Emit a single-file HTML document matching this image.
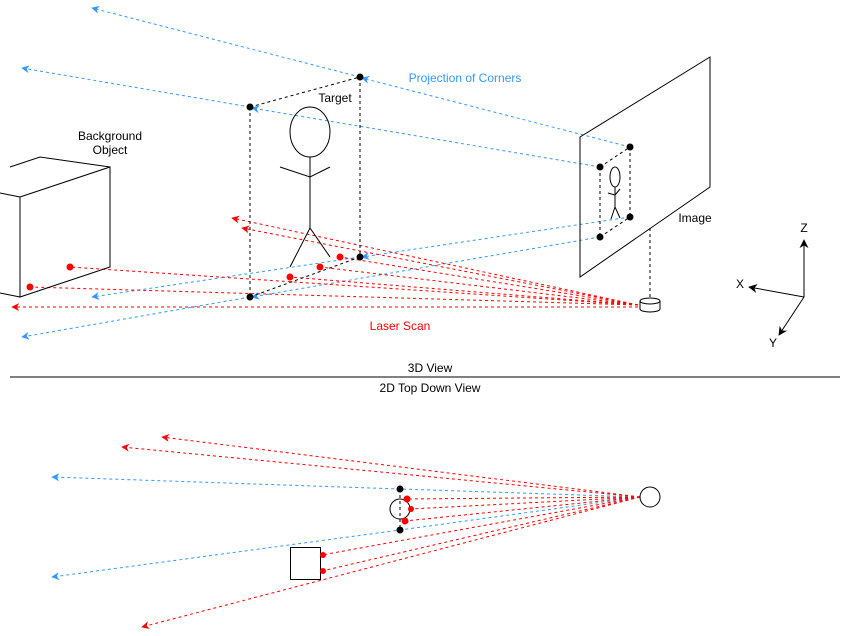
<!DOCTYPE html>
<html><head><meta charset="utf-8"><style>
html,body{margin:0;padding:0;background:#fff;}
svg{display:block;font-family:"Liberation Sans",sans-serif;}
</style></head><body>
<svg width="842" height="636" viewBox="0 0 842 636" xmlns="http://www.w3.org/2000/svg">
<defs>
<marker id="ab" viewBox="0 0 10 10" refX="9" refY="5" markerWidth="8" markerHeight="8" orient="auto" markerUnits="userSpaceOnUse"><path d="M0,0 L10,5 L0,10 L3,5 z" fill="#3399ff"/></marker>
<marker id="ar" viewBox="0 0 10 10" refX="9" refY="5" markerWidth="8" markerHeight="8" orient="auto" markerUnits="userSpaceOnUse"><path d="M0,0 L10,5 L0,10 L3,5 z" fill="#ff0000"/></marker>
<marker id="ak" viewBox="0 0 10 10" refX="9" refY="5" markerWidth="9" markerHeight="9" orient="auto" markerUnits="userSpaceOnUse"><path d="M0,0 L10,5 L0,10 L3,5 z" fill="#000"/></marker>
</defs>
<g fill="none" stroke-dasharray="3,3" stroke-width="1">
<!-- blue top -->
<g stroke="#3399ff">
<line x1="630" y1="147" x2="362" y2="78" marker-end="url(#ab)"/>
<line x1="360" y1="77" x2="92" y2="8" marker-end="url(#ab)"/>
<line x1="600" y1="167" x2="252" y2="108" marker-end="url(#ab)"/>
<line x1="250" y1="107" x2="22" y2="68" marker-end="url(#ab)"/>
<line x1="630" y1="217" x2="362" y2="257" marker-end="url(#ab)"/>
<line x1="360" y1="257" x2="92" y2="297" marker-end="url(#ab)"/>
<line x1="600" y1="237" x2="252" y2="297" marker-end="url(#ab)"/>
<line x1="250" y1="297" x2="22" y2="337" marker-end="url(#ab)"/>
</g>
<g stroke="#ff0000">
<line x1="638" y1="305" x2="232" y2="218" marker-end="url(#ar)"/>
<line x1="638" y1="305" x2="242" y2="228" marker-end="url(#ar)"/>
<line x1="638" y1="305" x2="340" y2="257"/>
<line x1="638" y1="305" x2="320" y2="267"/>
<line x1="638" y1="305" x2="290" y2="277"/>
<line x1="638" y1="305" x2="70" y2="267"/>
<line x1="638" y1="305" x2="30" y2="287"/>
<line x1="638" y1="307" x2="12" y2="307" marker-end="url(#ar)"/>
</g>
<g stroke="#000">
<line x1="250" y1="107" x2="360" y2="77"/>
<line x1="250" y1="107" x2="250" y2="297"/>
<line x1="360" y1="77" x2="360" y2="257"/>
<line x1="250" y1="297" x2="360" y2="257"/>
<line x1="600" y1="167" x2="630" y2="147"/>
<line x1="600" y1="167" x2="600" y2="237"/>
<line x1="630" y1="147" x2="630" y2="217"/>
<line x1="600" y1="237" x2="630" y2="217"/>
<line x1="650" y1="228" x2="650" y2="300"/>
</g>
</g>
<g fill="#000">
<circle cx="250" cy="107" r="3.5"/><circle cx="360" cy="77" r="3.5"/><circle cx="250" cy="297" r="3.5"/><circle cx="360" cy="257" r="3.5"/>
<circle cx="600" cy="167" r="3.5"/><circle cx="630" cy="147" r="3.5"/><circle cx="600" cy="237" r="3.5"/><circle cx="630" cy="217" r="3.5"/>
</g>
<g fill="#ff0000">
<circle cx="340" cy="257" r="3.5"/><circle cx="320" cy="267" r="3.5"/><circle cx="290" cy="277" r="3.5"/><circle cx="70" cy="267" r="3.5"/><circle cx="30" cy="287" r="3.5"/>
</g>
<g fill="none" stroke="#000" stroke-width="1">
<ellipse cx="310" cy="132" rx="20" ry="25"/>
<line x1="310" y1="157" x2="310" y2="228"/>
<polyline points="280,167 310,177 330,167"/>
<polyline points="290,267 310,228 330,257"/>
<ellipse cx="615" cy="177" rx="5" ry="10"/>
<line x1="615" y1="187" x2="615" y2="207"/>
<polyline points="608,193 615,195 620,189"/>
<polyline points="611,219 615,207 620,218"/>
<polyline points="20,197 110,167 110,267 20,297 20,197"/>
<polyline points="10,167 40,157 110,167"/>
<line x1="0" y1="193" x2="20" y2="197"/>
<line x1="0" y1="293" x2="20" y2="297"/>
<polygon points="580,137 710,57 710,187 580,277"/>
<path d="M640,301 v8 a10,3 0 0 0 20,0 v-8"/>
<ellipse cx="650" cy="301" rx="10" ry="3"/>
<line x1="804" y1="297" x2="804" y2="240" marker-end="url(#ak)"/>
<line x1="804" y1="297" x2="749" y2="287" marker-end="url(#ak)"/>
<line x1="804" y1="297" x2="779" y2="335" marker-end="url(#ak)"/>
<line x1="10" y1="377" x2="840" y2="377"/>
</g>
<g font-size="12" fill="#000" text-anchor="middle">
<text x="465" y="82" fill="#3399ff">Projection of Corners</text>
<text x="335" y="102">Target</text>
<text x="110" y="140">Background</text>
<text x="110" y="154">Object</text>
<text x="695" y="222">Image</text>
<text x="400" y="330" fill="#ff0000">Laser Scan</text>
<text x="804" y="232">Z</text>
<text x="740" y="288">X</text>
<text x="773" y="347">Y</text>
<text x="430" y="372">3D View</text>
<text x="430" y="392">2D Top Down View</text>
</g>
<!-- bottom -->
<g fill="none" stroke-dasharray="3,3" stroke-width="1">
<g stroke="#3399ff">
<polyline points="640,497 400,489 52,477" marker-end="url(#ab)"/>
<polyline points="640,497 400,530 52,577" marker-end="url(#ab)"/>
</g>
<g stroke="#ff0000">
<line x1="640" y1="497" x2="162" y2="437" marker-end="url(#ar)"/>
<line x1="640" y1="497" x2="122" y2="447" marker-end="url(#ar)"/>
<line x1="640" y1="497" x2="407" y2="499"/>
<line x1="640" y1="497" x2="411" y2="509"/>
<line x1="640" y1="497" x2="405" y2="521"/>
<line x1="640" y1="497" x2="322" y2="555"/>
<line x1="640" y1="497" x2="322" y2="571"/>
<line x1="640" y1="497" x2="142" y2="627" marker-end="url(#ar)"/>
</g>
<line x1="400" y1="489" x2="400" y2="530" stroke="#000"/>
</g>
<g fill="none" stroke="#000">
<circle cx="650" cy="497" r="10"/>
<circle cx="400" cy="509" r="10"/>
<rect x="290.5" y="547.5" width="30" height="32"/>
</g>
<g fill="#000"><circle cx="400" cy="489" r="3.5"/><circle cx="400" cy="530" r="3.5"/></g>
<g fill="#ff0000"><circle cx="407" cy="499" r="3.5"/><circle cx="411" cy="509" r="3"/><circle cx="405" cy="521" r="3.5"/><circle cx="323" cy="555" r="3"/><circle cx="323" cy="571" r="3"/></g>
</svg>
</body></html>
